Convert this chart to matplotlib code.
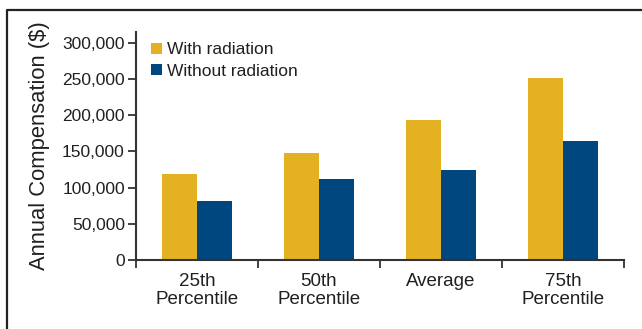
import matplotlib
matplotlib.use("Agg")
import matplotlib.pyplot as plt
import numpy as np
from matplotlib.lines import Line2D

categories = ["25th\nPercentile", "50th\nPercentile", "Average", "75th\nPercentile"]
with_radiation = [119000, 148000, 194000, 251000]
without_radiation = [82000, 112000, 125000, 165000]
series_labels = ["With radiation", "Without radiation"]
y_ticks = [0, 50000, 100000, 150000, 200000, 250000, 300000]

YELLOW = "#E3B122"
BLUE = "#00467F"
TEXT = "#231F20"

plt.rcParams["font.family"] = ["Liberation Sans", "DejaVu Sans"]

fig = plt.figure(figsize=(6.42, 3.29), dpi=100)
ax = fig.add_axes([0.2118, 0.2097, 0.760, 0.693])

x = np.arange(len(categories)) + 0.5
w = 0.29
ax.bar(x - w / 2, with_radiation, w, color=YELLOW, label=series_labels[0])
ax.bar(x + w / 2, without_radiation, w, color=BLUE, label=series_labels[1])

ax.set_xlim(0, len(categories))
ax.set_ylim(0, 315000)
ax.set_xticks(np.arange(len(categories) + 1))
ax.set_xticklabels([])
ax.set_xticks(x, minor=True)
ax.set_xticklabels(categories, minor=True, fontsize=13.5, color=TEXT, linespacing=1.15)
ax.tick_params(axis="x", which="minor", length=0, pad=9)
ax.tick_params(axis="x", which="major", direction="out", length=6, width=1.3, color="#333333")

ax.set_yticks(y_ticks)
ax.set_yticklabels([f"{v:,}" for v in y_ticks], fontsize=12.5, color=TEXT)
ax.tick_params(axis="y", direction="out", length=6, width=1.3, color="#333333", pad=2)

for side in ("top", "right"):
    ax.spines[side].set_visible(False)
for side in ("left", "bottom"):
    ax.spines[side].set_linewidth(1.5)
    ax.spines[side].set_color("#333333")

ax.set_ylabel("Annual Compensation ($)", fontsize=15.8, color=TEXT, labelpad=9)

leg = ax.legend(loc="upper left", bbox_to_anchor=(0.017, 0.985), frameon=False,
                fontsize=12.5, handlelength=0.62, handleheight=0.62,
                handletextpad=0.3, labelspacing=0.37, borderaxespad=0.0)
for t in leg.get_texts():
    t.set_color(TEXT)

# outer frame along the left and top edges
W, H = 642, 329
fig.add_artist(Line2D([7 / W, 7 / W, 1.0], [0.0, 1 - 10 / H, 1 - 10 / H],
                      transform=fig.transFigure, color="#222222", linewidth=1.6))

fig.savefig("out.png", dpi=100)
